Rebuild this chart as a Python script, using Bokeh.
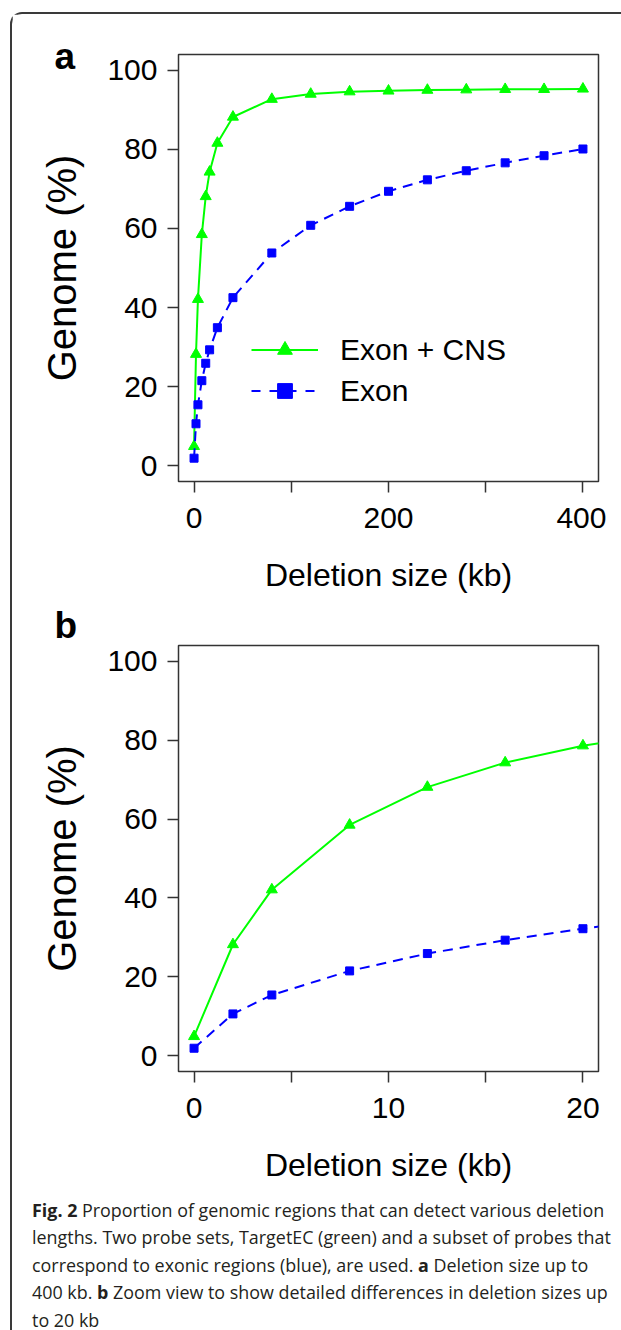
from bokeh.plotting import figure
from bokeh.layouts import column
from bokeh.models import (ColumnDataSource, FixedTicker, Legend, LegendItem, Div)
from bokeh.embed import file_html
from bokeh.resources import INLINE

# ---------------- data ----------------
# panel a: deletion sizes up to 400 kb
deletion_kb_a = [0, 2, 4, 8, 12, 16, 24, 40, 80, 120, 160, 200, 240, 280, 320, 360, 400]
exon_cns_a = [4.9, 28.2, 42.1, 58.5, 68.1, 74.3, 81.6, 88.2, 92.7, 94.0, 94.6, 94.8,
              95.0, 95.1, 95.2, 95.2, 95.3]
exon_a = [1.9, 10.6, 15.4, 21.5, 25.9, 29.3, 34.9, 42.5, 53.8, 60.8, 65.6, 69.4,
          72.3, 74.6, 76.6, 78.4, 80.1]
# panel b: zoom view up to 20 kb
deletion_kb_b = [0, 2, 4, 8, 12, 16, 20, 24]
exon_cns_b = [4.9, 28.2, 42.1, 58.5, 68.1, 74.3, 78.6, 81.6]
exon_b = [1.9, 10.6, 15.4, 21.5, 25.9, 29.3, 32.2, 34.9]

series_names = ["Exon + CNS", "Exon"]
y_ticks = [0, 20, 40, 60, 80, 100]
x_ticks_a = [0, 100, 200, 300, 400]
x_labels_a = ["0", "", "200", "", "400"]
x_ticks_b = [0, 5, 10, 15, 20]
x_labels_b = ["0", "", "10", "", "20"]
caption_html = ('<b>Fig. 2</b> Proportion of genomic regions that can detect various deletion<br>'
                'lengths. Two probe sets, TargetEC (green) and a subset of probes that<br>'
                'correspond to exonic regions (blue), are used. <b>a</b> Deletion size up to<br>'
                '400 kb. <b>b</b> Zoom view to show detailed differences in deletion sizes up<br>'
                'to 20 kb')

GREEN = "#00FF00"
BLUE = "#0000FF"
FRAME = "#333333"
FONT = "Liberation Sans"
NAN = float("nan")


def make_panel(letter, xs, gs, bs, xlim, xticks, xlabels, top_pad, bottom_pad, frame_h,
               letter_standoff, with_legend):
    src = ColumnDataSource(data=dict(x=xs, g=gs, b=bs))
    p = figure(frame_width=420, frame_height=frame_h, x_range=xlim, y_range=(-4, 104),
               output_backend="svg", toolbar_location=None, title=letter,
               min_border_left=166, min_border_right=8,
               min_border_top=top_pad, min_border_bottom=bottom_pad,
               background_fill_color="white", border_fill_color="white")
    p.outline_line_color = FRAME
    p.outline_line_width = 1.5
    p.grid.visible = False

    p.title.align = "left"
    p.title.offset = -124
    p.title.standoff = letter_standoff
    p.title.vertical_align = "bottom"
    p.title.text_font = FONT
    p.title.text_font_size = "37px"
    p.title.text_font_style = "bold"
    p.title.text_color = "black"

    p.line("x", "g", source=src, line_color=GREEN, line_width=2)
    p.scatter("x", "g", source=src, marker="triangle", size=11,
              fill_color=GREEN, line_color=GREEN)
    p.line("x", "b", source=src, line_color=BLUE, line_width=2, line_dash="10 7")
    p.scatter("x", "b", source=src, marker="square", size=8,
              fill_color=BLUE, line_color=BLUE)

    p.xaxis.ticker = FixedTicker(ticks=xticks)
    p.xaxis.major_label_overrides = {t: l for t, l in zip(xticks, xlabels)}
    p.yaxis.ticker = FixedTicker(ticks=y_ticks)
    for ax in (p.xaxis, p.yaxis):
        ax.axis_line_color = None
        ax.major_tick_line_color = FRAME
        ax.major_tick_line_width = 1.5
        ax.major_tick_out = 11
        ax.major_tick_in = 0
        ax.minor_tick_line_color = None
        ax.major_label_text_font = FONT
        ax.major_label_text_font_size = "30px"
        ax.major_label_text_color = "black"
        ax.axis_label_text_font = FONT
        ax.axis_label_text_font_style = "normal"
        ax.axis_label_text_color = "black"
    p.xaxis.axis_label_text_font_size = "32px"
    p.yaxis.axis_label_text_font_size = "40px"
    p.xaxis.major_label_standoff = 15
    p.yaxis.major_label_standoff = 10
    p.xaxis.axis_label_standoff = 26
    p.yaxis.axis_label_standoff = 20
    p.xaxis.axis_label = "Deletion size (kb)"
    p.yaxis.axis_label = "Genome (%)"

    if with_legend:
        proxy = ColumnDataSource(data=dict(x=[NAN], y=[NAN]))
        gl = p.line("x", "y", source=proxy, line_color=GREEN, line_width=2)
        gm = p.scatter("x", "y", source=proxy, marker="triangle", size=22,
                       fill_color=GREEN, line_color=GREEN)
        bl = p.line("x", "y", source=proxy, line_color=BLUE, line_width=2, line_dash="9 9")
        bm = p.scatter("x", "y", source=proxy, marker="square", size=15,
                       fill_color=BLUE, line_color=BLUE)
        legend = Legend(items=[LegendItem(label=series_names[0], renderers=[gl, gm]),
                               LegendItem(label=series_names[1], renderers=[bl, bm])],
                        location=(73, 72), glyph_width=67, glyph_height=37, label_height=37,
                        spacing=4, padding=0, margin=0, label_standoff=22,
                        border_line_color=None, background_fill_alpha=0,
                        label_text_font=FONT, label_text_font_size="30px",
                        label_text_color="black")
        p.add_layout(legend)
    return p


p_a = make_panel("a", deletion_kb_a, exon_cns_a, exon_a, (-16, 416), x_ticks_a, x_labels_a,
                 40, 119, 427, -44, True)
p_b = make_panel("b", deletion_kb_b, exon_cns_b, exon_b, (-0.8, 20.8), x_ticks_b, x_labels_b,
                 45, 114, 426, 0, False)

cap = Div(text=caption_html, width=600, height=137,
          styles={"font-family": "'Open Sans'", "font-size": "17.9px", "line-height": "27.4px",
                  "color": "#231f20", "padding-left": "15px", "padding-top": "7px",
                  "white-space": "nowrap"})

layout = column(p_a, p_b, cap, margin=(12, 0, 0, 10),
                styles={"border-left": "2px solid #3a3a3a", "border-top": "2px solid #3a3a3a",
                        "border-top-left-radius": "12px"})

open("out.html", "w").write(file_html(layout, INLINE))
